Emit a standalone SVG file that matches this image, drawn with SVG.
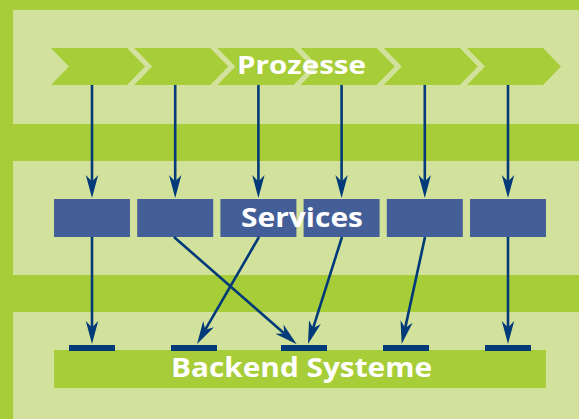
<svg xmlns="http://www.w3.org/2000/svg" width="579" height="419" viewBox="0 0 579 419">
<defs>
<style>
.bg{fill:#a7cd38}
.panel{fill:#d2e29c}
.chev{fill:#a7cd38}
.svc{fill:#445f97}
.backend{fill:#a7cd38}
.port{fill:#003a78}
.conn{stroke:#003a78;stroke-width:2.6;fill:none;marker-end:url(#ah)}
.lbl{font-family:"Open Sans","DejaVu Sans",sans-serif;font-weight:bold;fill:#ffffff}
</style>
<marker id="ah" markerUnits="userSpaceOnUse" markerWidth="24" markerHeight="14" viewBox="0 -7 24 14" refX="6.5" refY="0" orient="auto">
<path d="M0,-6.2 L23,0 L0,6.2 L6.5,0 Z" fill="#003a78"/>
</marker>
</defs>
<rect class="bg" x="0" y="0" width="579" height="419"/>
<rect class="panel" x="13" y="10" width="566" height="114"/>
<rect class="panel" x="13" y="161" width="566" height="114"/>
<rect class="panel" x="13" y="312" width="566" height="107"/>

<g id="prozesse">
<polygon class="chev" points="51,48 127,48 145,66.5 127,85 51,85 69,66.5"/>
<polygon class="chev" points="134.2,48 210.2,48 228.2,66.5 210.2,85 134.2,85 152.2,66.5"/>
<polygon class="chev" points="217.4,48 293.4,48 311.4,66.5 293.4,85 217.4,85 235.4,66.5"/>
<polygon class="chev" points="300.6,48 376.6,48 394.6,66.5 376.6,85 300.6,85 318.6,66.5"/>
<polygon class="chev" points="383.8,48 459.8,48 477.8,66.5 459.8,85 383.8,85 401.8,66.5"/>
<polygon class="chev" points="467,48 543,48 561,66.5 543,85 467,85 485,66.5"/>
<text class="lbl" x="237" y="74.3" font-size="25.5" textLength="129" lengthAdjust="spacingAndGlyphs">Prozesse</text>
</g>

<g id="services">
<rect class="svc" x="54" y="199" width="76" height="38"/>
<rect class="svc" x="137.2" y="199" width="76" height="38"/>
<rect class="svc" x="220.4" y="199" width="76" height="38"/>
<rect class="svc" x="303.6" y="199" width="76" height="38"/>
<rect class="svc" x="386.8" y="199" width="76" height="38"/>
<rect class="svc" x="470" y="199" width="76" height="38"/>
<text class="lbl" x="241" y="226.7" font-size="27" textLength="122" lengthAdjust="spacingAndGlyphs">Services</text>
</g>

<g id="backend">
<rect class="backend" x="54" y="350" width="492" height="38"/>
<rect class="port" x="69" y="345" width="46" height="6"/>
<rect class="port" x="171" y="345" width="46" height="6"/>
<rect class="port" x="281" y="345" width="46" height="6"/>
<rect class="port" x="383" y="345" width="46" height="6"/>
<rect class="port" x="485" y="345" width="46" height="6"/>
<text class="lbl" x="171" y="376.7" font-size="26" textLength="261" lengthAdjust="spacingAndGlyphs">Backend Systeme</text>
</g>

<g id="connectors">
<line class="conn" x1="92" y1="85" x2="92" y2="181.5"/>
<line class="conn" x1="175.2" y1="85" x2="175.2" y2="181.5"/>
<line class="conn" x1="258.4" y1="85" x2="258.4" y2="181.5"/>
<line class="conn" x1="341.6" y1="85" x2="341.6" y2="181.5"/>
<line class="conn" x1="424.8" y1="85" x2="424.8" y2="181.5"/>
<line class="conn" x1="508" y1="85" x2="508" y2="181.5"/>
<line class="conn" x1="92" y1="237" x2="92" y2="327.5"/>
<line class="conn" x1="174" y1="237" x2="284.3" y2="333.4"/>
<line class="conn" x1="259" y1="237" x2="205.3" y2="329.7"/>
<line class="conn" x1="342" y1="237" x2="313" y2="328.3"/>
<line class="conn" x1="425" y1="237" x2="405.2" y2="327.9"/>
<line class="conn" x1="508" y1="237" x2="508" y2="327.5"/>
</g>
</svg>
